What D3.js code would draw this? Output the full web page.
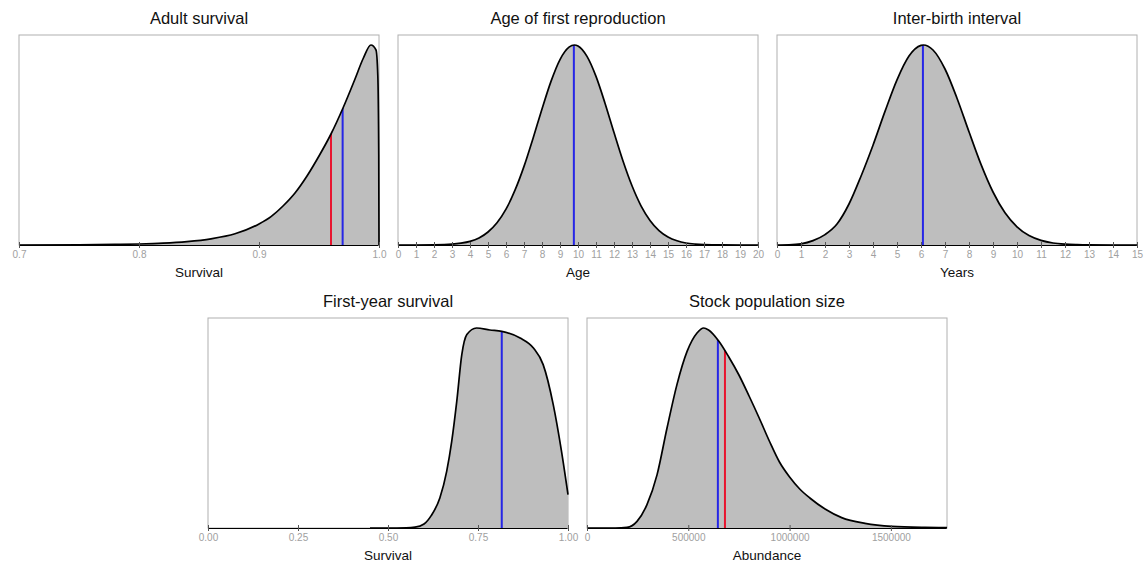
<!DOCTYPE html>
<html>
<head>
<meta charset="utf-8">
<script src="https://cdn.jsdelivr.net/npm/d3@7"></script>
<style>
  body { margin: 0; background: #fff; }
  svg { font-family: "Liberation Sans", Arial, sans-serif; }
  .title { font-size: 16.5px; fill: #111; }
  .xlab { font-size: 13.5px; fill: #111; }
  .tick text { font-size: 10px; fill: #a0a0a0; }
  .tick line { stroke: #555; }
  .domain { stroke: #000; stroke-width: 1.2px; }
</style>
</head>
<body>
<svg width="1146" height="564"></svg>
<script>
// density curves (y relative to each panel's peak)
const adultX = [0.70, 0.75, 0.78, 0.80, 0.82, 0.84, 0.86, 0.88, 0.90, 0.91, 0.92, 0.93, 0.94, 0.95, 0.96, 0.97, 0.98, 0.987, 0.9933, 0.9975, 0.999, 0.9998, 1.0];
const adultY = [0.0, 0.001, 0.003, 0.005, 0.009, 0.017, 0.031, 0.056, 0.105, 0.142, 0.195, 0.26, 0.345, 0.445, 0.555, 0.685, 0.83, 0.935, 1.0, 0.975, 0.85, 0.45, 0.0];

const ageX = [0, 1, 2, 3, 3.5, 4, 4.5, 5, 5.5, 6, 6.5, 7, 7.5, 8, 8.5, 9, 9.5, 9.8, 10, 10.5, 11, 11.5, 12, 12.5, 13, 13.5, 14, 14.5, 15, 15.5, 16, 16.5, 17, 18, 19, 20];
const ageY = [0, 0, 0.0007, 0.004, 0.009, 0.018, 0.035, 0.065, 0.111, 0.179, 0.274, 0.393, 0.533, 0.68, 0.818, 0.927, 0.989, 1.0, 0.995, 0.943, 0.843, 0.709, 0.562, 0.42, 0.296, 0.196, 0.123, 0.072, 0.04, 0.021, 0.01, 0.0047, 0.002, 0.0003, 0, 0];

const ibiX = [0, 0.5, 1, 1.5, 2, 2.5, 3, 3.5, 4, 4.5, 5, 5.5, 6, 6.1, 6.5, 7, 7.5, 8, 8.5, 9, 9.5, 10, 10.5, 11, 11.5, 12, 12.5, 13, 14, 15];
const ibiY = [0, 0.001, 0.006, 0.022, 0.052, 0.105, 0.205, 0.344, 0.499, 0.668, 0.826, 0.945, 0.998, 1.0, 0.975, 0.88, 0.734, 0.566, 0.403, 0.265, 0.161, 0.091, 0.047, 0.023, 0.01, 0.0041, 0.0016, 0.0005, 0, 0];

const fysX = [0.45, 0.50, 0.55, 0.575, 0.60, 0.62, 0.644, 0.663, 0.677, 0.691, 0.705, 0.719, 0.746, 0.783, 0.816, 0.867, 0.904, 0.931, 0.959, 0.982, 1.0];
const fysY = [0, 0, 0.001, 0.004, 0.02, 0.062, 0.15, 0.283, 0.433, 0.633, 0.867, 0.967, 1.0, 0.99, 0.983, 0.95, 0.9, 0.817, 0.617, 0.383, 0.167];

const popX = [0, 140000, 197000, 247000, 296000, 346000, 395000, 444000, 494000, 543000, 576000, 600000, 650000, 700000, 750000, 800000, 850000, 900000, 950000, 1000000, 1050000, 1100000, 1175000, 1257000, 1372000, 1504000, 1668000, 1777000];
const popY = [0, 0, 0.003, 0.033, 0.117, 0.267, 0.5, 0.717, 0.883, 0.975, 1.0, 0.99, 0.935, 0.855, 0.765, 0.66, 0.55, 0.435, 0.33, 0.255, 0.195, 0.15, 0.095, 0.052, 0.023, 0.008, 0.003, 0.002];

// vertical reference lines (blue, red)
const adultLines = [0.9697, 0.96];
const ageLines = [9.77];
const ibiLines = [6.08];
const fysLines = [0.816];
const popLines = [646000, 681000];

const adultTicks = [0.7, 0.8, 0.9, 1.0];
const ageTicks = d3.range(0, 21);
const ibiTicks = d3.range(0, 16);
const fysTicks = [0, 0.25, 0.5, 0.75, 1.0];
const popTicks = [0, 500000, 1000000, 1500000];

const lineColors = ["#2626e6", "#e8142e"];

const panels = [
  { title: "Adult survival", xlab: "Survival", left: 19, top: 35, domain: [0.7, 1.0],
    xs: adultX, ys: adultY, lines: adultLines, ticks: adultTicks, fmt: d3.format(".1f") },
  { title: "Age of first reproduction", xlab: "Age", left: 398, top: 35, domain: [0, 20],
    xs: ageX, ys: ageY, lines: ageLines, ticks: ageTicks, fmt: d3.format("d") },
  { title: "Inter-birth interval", xlab: "Years", left: 777, top: 35, domain: [0, 15],
    xs: ibiX, ys: ibiY, lines: ibiLines, ticks: ibiTicks, fmt: d3.format("d") },
  { title: "First-year survival", xlab: "Survival", left: 208, top: 318, domain: [0, 1],
    xs: fysX, ys: fysY, lines: fysLines, ticks: fysTicks, fmt: d3.format(".2f") },
  { title: "Stock population size", xlab: "Abundance", left: 587, top: 318, domain: [0, 1777000],
    xs: popX, ys: popY, lines: popLines, ticks: popTicks, fmt: d3.format("d") },
];

const width = 360;
const height = 210;
const svg = d3.select("svg");

panels.forEach((p, i) => {
  const g = svg.append("g").attr("transform", "translate(" + p.left + ", " + p.top + ")");
  const x = d3.scaleLinear().domain(p.domain).range([0, width]);
  const y = d3.scaleLinear().domain([0, 1.05]).range([height, 0]);
  const pts = p.xs.map((d, k) => [d, p.ys[k]]).filter((d) => d[0] >= p.domain[0]);

  const area = d3.area()
    .x((d) => x(d[0]))
    .y0(height)
    .y1((d) => y(d[1]))
    .curve(d3.curveMonotoneX);
  const line = d3.line()
    .x((d) => x(d[0]))
    .y((d) => y(d[1]))
    .curve(d3.curveMonotoneX);

  g.append("clipPath").attr("id", "clip" + i)
    .append("path").attr("d", area(pts));

  g.append("rect")
    .attr("width", width)
    .attr("height", height)
    .attr("fill", "#fff")
    .attr("stroke", "#b0b0b0")
    .attr("stroke-width", 1);

  g.append("path")
    .attr("d", area(pts))
    .attr("fill", "#bebebe");

  g.selectAll(".vline")
    .data(p.lines)
    .enter()
    .append("line")
    .attr("class", "vline")
    .attr("clip-path", "url(#clip" + i + ")")
    .attr("x1", (d) => x(d))
    .attr("x2", (d) => x(d))
    .attr("y1", height)
    .attr("y2", 0)
    .attr("stroke", (d, k) => lineColors[k])
    .attr("stroke-width", 2);

  g.append("path")
    .attr("d", line(pts))
    .attr("fill", "none")
    .attr("stroke", "#000")
    .attr("stroke-width", 1.7);

  const axis = g.append("g")
    .attr("transform", "translate(0, " + height + ")")
    .call(d3.axisBottom(x).tickValues(p.ticks).tickFormat(p.fmt).tickSize(3).tickSizeOuter(0));
  axis.selectAll(".tick line").attr("y1", -3);
  axis.selectAll(".tick text").attr("dy", "0.9em").attr("y", 4);
  axis.select(".domain").attr("d", "M0.5,0.5H" + (width - 0.5));

  g.append("text")
    .attr("class", "title")
    .attr("x", width / 2)
    .attr("y", -11)
    .attr("text-anchor", "middle")
    .text(p.title);

  g.append("text")
    .attr("class", "xlab")
    .attr("x", width / 2)
    .attr("y", height + 32)
    .attr("text-anchor", "middle")
    .text(p.xlab);
});
</script>
</body>
</html>
